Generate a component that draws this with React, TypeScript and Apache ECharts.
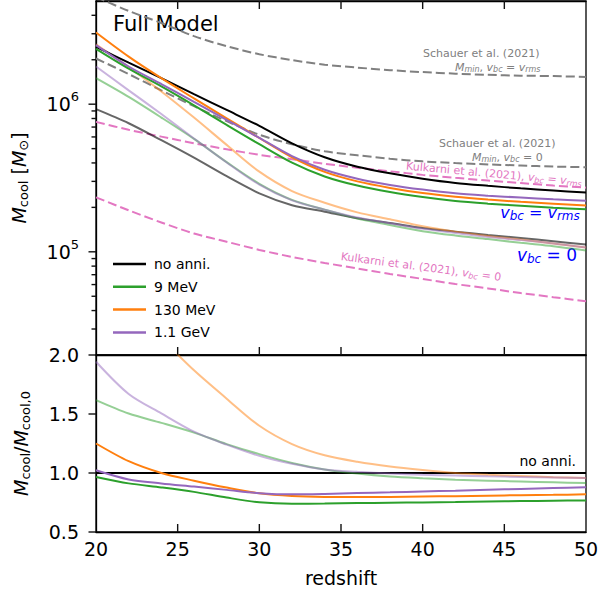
import React, { useEffect, useRef } from "react";
import * as echarts from "echarts";

const Z = [20, 22, 24, 26, 28, 30, 32, 34, 36, 38, 40, 42, 44, 46, 48, 50];

// top panel, v_bc = v_rms
const noAnniRms = [2.45e6, 1.91e6, 1.5e6, 1.17e6, 9.14e5, 7.13e5, 5.43e5, 4.37e5, 3.77e5, 3.4e5, 3.13e5, 2.93e5, 2.8e5, 2.69e5, 2.6e5, 2.52e5];
const mev9Rms = [2.37e6, 1.74e6, 1.32e6, 9.83e5, 7.24e5, 5.36e5, 4.02e5, 3.24e5, 2.81e5, 2.54e5, 2.35e5, 2.21e5, 2.12e5, 2.05e5, 1.99e5, 1.94e5];
const mev130Rms = [3.06e6, 2.1e6, 1.5e6, 1.094e6, 8.02e5, 5.9e5, 4.37e5, 3.48e5, 3.0e5, 2.71e5, 2.5e5, 2.36e5, 2.26e5, 2.18e5, 2.12e5, 2.06e5];
const gev11Rms = [2.51e6, 1.8e6, 1.37e6, 1.035e6, 7.83e5, 5.91e5, 4.45e5, 3.6e5, 3.13e5, 2.84e5, 2.64e5, 2.49e5, 2.4e5, 2.33e5, 2.27e5, 2.22e5];

// top panel, v_bc = 0
const noAnni0 = [9.25e5, 7.43e5, 5.7e5, 4.34e5, 3.25e5, 2.49e5, 2.07e5, 1.87e5, 1.69e5, 1.57e5, 1.45e5, 1.37e5, 1.3e5, 1.24e5, 1.18e5, 1.12e5];
const mev9_0 = [1.5e6, 1.12e6, 8.12e5, 5.82e5, 4.05e5, 2.89e5, 2.25e5, 1.93e5, 1.68e5, 1.52e5, 1.38e5, 1.29e5, 1.22e5, 1.15e5, 1.09e5, 1.02e5];
const mev130_0 = [2.54e6, 1.78e6, 1.22e6, 8.12e5, 5.3e5, 3.49e5, 2.58e5, 2.15e5, 1.85e5, 1.66e5, 1.49e5, 1.37e5, 1.28e5, 1.21e5, 1.14e5, 1.07e5];
const gev11_0 = [1.8e6, 1.24e6, 8.58e5, 5.86e5, 4.03e5, 2.85e5, 2.23e5, 1.93e5, 1.71e5, 1.56e5, 1.43e5, 1.34e5, 1.26e5, 1.2e5, 1.14e5, 1.07e5];

// reference curves
const schauerRms = [5.32e6, 4.28e6, 3.55e6, 2.89e6, 2.47e6, 2.18e6, 1.99e6, 1.85e6, 1.77e6, 1.7e6, 1.65e6, 1.61e6, 1.58e6, 1.56e6, 1.55e6, 1.53e6];
const schauer0 = [2.04e6, 1.6e6, 1.24e6, 9.69e5, 7.67e5, 6.21e5, 5.35e5, 4.8e5, 4.51e5, 4.27e5, 4.1e5, 3.99e5, 3.91e5, 3.84e5, 3.78e5, 3.74e5];
const kulkarniRms = [7.59e5, 6.71e5, 6.03e5, 5.44e5, 4.95e5, 4.54e5, 4.24e5, 3.95e5, 3.71e5, 3.51e5, 3.32e5, 3.17e5, 3.04e5, 2.92e5, 2.81e5, 2.72e5];
const kulkarni0 = [2.34e5, 1.91e5, 1.58e5, 1.33e5, 1.17e5, 1.03e5, 9.23e4, 8.41e4, 7.71e4, 7.08e4, 6.55e4, 6.05e4, 5.65e4, 5.26e4, 4.93e4, 4.63e4];

// bottom panel ratios
const ratioNoAnni = [1, 1, 1, 1, 1, 1, 1, 1, 1, 1, 1, 1, 1, 1, 1, 1];
const ratio9Rms = [0.966, 0.912, 0.878, 0.84, 0.792, 0.752, 0.74, 0.741, 0.745, 0.748, 0.751, 0.754, 0.758, 0.762, 0.765, 0.768];
const ratio130Rms = [1.25, 1.1, 1.0, 0.935, 0.877, 0.828, 0.805, 0.797, 0.796, 0.797, 0.8, 0.804, 0.808, 0.812, 0.815, 0.819];
const ratio11Rms = [1.023, 0.945, 0.912, 0.885, 0.857, 0.829, 0.819, 0.823, 0.83, 0.836, 0.843, 0.85, 0.858, 0.865, 0.872, 0.879];
const ratio9_0 = [1.618, 1.504, 1.425, 1.342, 1.245, 1.16, 1.085, 1.03, 0.995, 0.97, 0.955, 0.943, 0.935, 0.928, 0.921, 0.915];
const ratio130_0 = [2.75, 2.4, 2.14, 1.87, 1.63, 1.4, 1.245, 1.15, 1.095, 1.055, 1.025, 1.0, 0.985, 0.975, 0.965, 0.958];
const ratio11_0 = [1.943, 1.67, 1.505, 1.35, 1.24, 1.145, 1.078, 1.03, 1.01, 0.995, 0.985, 0.978, 0.972, 0.967, 0.962, 0.958];

// tick positions
const X_TICKS = [25, 30, 35, 40, 45];
const Y_MAJOR_TOP = [1e5, 1e6];
const Y_MINOR_TOP = [3e4, 4e4, 5e4, 6e4, 7e4, 8e4, 9e4, 2e5, 3e5, 4e5, 5e5, 6e5, 7e5, 8e5, 9e5, 2e6, 3e6, 4e6];
const Y_MAJOR_BOTTOM = [0.5, 1.0, 1.5, 2.0];

const LEGEND = ["no anni.", "9 MeV", "130 MeV", "1.1 GeV"];
const X_MIN = 20;
const X_MAX = 50;
const Y_TOP_MIN = 2e4;
const Y_TOP_MAX = 5e6;
const Y_BOT_MIN = 0.5;
const Y_BOT_MAX = 2.0;

const FONT = "DejaVu Sans";
const BLACK = "#000000";
const GREEN = "#2ca02c";
const ORANGE = "#ff7f0e";
const PURPLE = "#9467bd";
const PINK = "#e377c2";
const GREY = "#808080";

const pairs = (ys: number[]) => Z.map((x, i) => [x, ys[i]]);

function line(name: string, ys: number[], color: string, grid: number, opts: any = {}) {
  return {
    type: "line",
    name,
    xAxisIndex: grid === 0 ? 0 : 2,
    yAxisIndex: grid,
    data: pairs(ys),
    symbol: "none",
    smooth: 0.3,
    clip: true,
    silent: true,
    lineStyle: { color, width: 2, opacity: opts.opacity ?? 1, type: opts.type ?? "solid" },
    itemStyle: { color },
    z: opts.z ?? 3,
  };
}

// tick marks drawn through the axes' own scales
function ticks(name: string, xAxisIndex: number, yAxisIndex: number, data: number[][], dir: "left" | "up" | "down", len: number) {
  return {
    type: "custom",
    name,
    coordinateSystem: "cartesian2d",
    xAxisIndex,
    yAxisIndex,
    clip: false,
    silent: true,
    encode: { x: 0, y: 1 },
    data,
    z: 20,
    renderItem: (params: any, api: any) => {
      const p = api.coord([api.value(0), api.value(1)]);
      let shape;
      if (dir === "left") shape = { x1: p[0] - len, y1: p[1], x2: p[0], y2: p[1] };
      else if (dir === "up") shape = { x1: p[0], y1: p[1] - len, x2: p[0], y2: p[1] };
      else shape = { x1: p[0], y1: p[1], x2: p[0], y2: p[1] + len };
      return { type: "line", shape, style: { stroke: "#111111", lineWidth: 1.4, fill: null } };
    },
  };
}

const dash = [9, 4];

export default function App() {
  const ref = useRef<HTMLDivElement>(null);
  useEffect(() => {
    if (!ref.current) return;
    const chart = echarts.init(ref.current, null, { renderer: "svg" });
    const axisTxt = { fontFamily: FONT, fontSize: 19, color: BLACK };
    const annRich = (color: string, size: number, subSize: number, pad: number) => ({
      i: { fontFamily: FONT, fontSize: size, fontStyle: "italic", fill: color },
      n: { fontFamily: FONT, fontSize: size, fill: color },
      s: { fontFamily: FONT, fontSize: subSize, fontStyle: "italic", fill: color, padding: [pad, 0, 0, 0] },
    });
    const nameRich = {
      i: { fontFamily: FONT, fontSize: 19, fontStyle: "italic", color: BLACK },
      n: { fontFamily: FONT, fontSize: 19, color: BLACK },
      s: { fontFamily: FONT, fontSize: 13, color: BLACK, padding: [9, 0, 0, 0] },
    };
    const frameLine = { show: true, lineStyle: { color: BLACK, width: 1.3, opacity: 1 } };
    const noTick = { show: false };

    const option: any = {
      animation: false,
      backgroundColor: "#ffffff",
      textStyle: { fontFamily: FONT },
      grid: [
        { left: 96, top: 1, width: 490, height: 354, show: true, borderColor: BLACK, borderWidth: 1.3, backgroundColor: "transparent" },
        { left: 96, top: 355, width: 490, height: 177, show: true, borderColor: BLACK, borderWidth: 1.3, backgroundColor: "transparent" },
      ],
      legend: {
        data: LEGEND,
        orient: "vertical",
        left: 108,
        top: 251,
        itemWidth: 33,
        itemHeight: 2.5,
        itemGap: 6.8,
        icon: "rect",
        selectedMode: false,
        textStyle: { fontFamily: FONT, fontSize: 14, color: BLACK, lineHeight: 16, padding: [0, 0, 0, 3] },
      },
      xAxis: [
        {
          gridIndex: 0, type: "value", min: X_MIN, max: X_MAX, interval: 5, position: "bottom",
          axisLine: frameLine, axisLabel: { show: false }, splitLine: { show: false }, axisTick: noTick,
        },
        {
          gridIndex: 0, type: "value", min: X_MIN, max: X_MAX, interval: 5, position: "top",
          axisLine: frameLine, axisLabel: { show: false }, splitLine: { show: false }, axisTick: noTick,
        },
        {
          gridIndex: 1, type: "value", min: X_MIN, max: X_MAX, interval: 5, position: "bottom",
          axisLine: frameLine, splitLine: { show: false }, axisTick: noTick,
          axisLabel: { ...axisTxt, margin: 7 },
          name: "redshift", nameLocation: "middle", nameGap: 36, nameTextStyle: axisTxt,
        },
      ],
      yAxis: [
        {
          gridIndex: 0, type: "log", logBase: 10, min: Y_TOP_MIN, max: Y_TOP_MAX,
          axisLine: frameLine, splitLine: { show: false }, axisTick: noTick,
          axisLabel: {
            showMinLabel: false, showMaxLabel: false, margin: 17,
            formatter: (v: number) => `{a|10}{b|${Math.round(Math.log10(v))}}`,
            rich: {
              a: { fontFamily: FONT, fontSize: 19, color: BLACK },
              b: { fontFamily: FONT, fontSize: 13, color: BLACK, padding: [0, 0, 15, 0] },
            },
          },
          name: "{i|M}{s|cool}{n| [}{i|M}{s|⊙}{n|]}",
          nameLocation: "middle", nameRotate: 90, nameGap: 66,
          nameTextStyle: { rich: nameRich },
        },
        {
          gridIndex: 1, type: "value", min: Y_BOT_MIN, max: Y_BOT_MAX, interval: 0.5,
          axisLine: frameLine, splitLine: { show: false }, axisTick: noTick,
          axisLabel: { ...axisTxt, margin: 17, formatter: (v: number) => v.toFixed(1) },
          name: "{i|M}{s|cool}{n|/}{i|M}{s|cool,0}",
          nameLocation: "middle", nameRotate: 90, nameGap: 64,
          nameTextStyle: { rich: nameRich },
        },
      ],
      series: [
        line("Schauer vrms", schauerRms, GREY, 0, { type: dash, z: 2 }),
        line("Schauer 0", schauer0, GREY, 0, { type: dash, z: 2 }),
        line("Kulkarni vrms", kulkarniRms, PINK, 0, { type: dash, z: 2 }),
        line("Kulkarni 0", kulkarni0, PINK, 0, { type: dash, z: 2 }),
        line("no anni. 0", noAnni0, BLACK, 0, { opacity: 0.6 }),
        line("9 MeV 0", mev9_0, GREEN, 0, { opacity: 0.5 }),
        line("130 MeV 0", mev130_0, ORANGE, 0, { opacity: 0.5 }),
        line("1.1 GeV 0", gev11_0, PURPLE, 0, { opacity: 0.5 }),
        line("no anni.", noAnniRms, BLACK, 0),
        line("9 MeV", mev9Rms, GREEN, 0),
        line("130 MeV", mev130Rms, ORANGE, 0),
        line("1.1 GeV", gev11Rms, PURPLE, 0),
        line("ratio no anni.", ratioNoAnni, BLACK, 1),
        line("ratio 9 MeV 0", ratio9_0, GREEN, 1, { opacity: 0.5 }),
        line("ratio 130 MeV 0", ratio130_0, ORANGE, 1, { opacity: 0.5 }),
        line("ratio 1.1 GeV 0", ratio11_0, PURPLE, 1, { opacity: 0.5 }),
        line("ratio 9 MeV", ratio9Rms, GREEN, 1),
        line("ratio 130 MeV", ratio130Rms, ORANGE, 1),
        line("ratio 1.1 GeV", ratio11Rms, PURPLE, 1),
        ticks("y major top", 0, 0, Y_MAJOR_TOP.map((v) => [X_MIN, v]), "left", 7.5),
        ticks("y minor top", 0, 0, Y_MINOR_TOP.map((v) => [X_MIN, v]), "left", 4.5),
        ticks("y major bottom", 2, 1, Y_MAJOR_BOTTOM.map((v) => [X_MIN, v]), "left", 7.5),
        ticks("x ticks top-bottom", 0, 0, X_TICKS.map((v) => [v, Y_TOP_MIN]), "up", 8),
        ticks("x ticks top-top", 0, 0, X_TICKS.map((v) => [v, Y_TOP_MAX]), "down", 8),
        ticks("x ticks bottom", 2, 1, X_TICKS.map((v) => [v, Y_BOT_MIN]), "up", 8),
      ],
      graphic: [
        { type: "text", left: 113, top: 13, style: { text: "Full Model", fontFamily: FONT, fontSize: 21, fill: BLACK } },
        { type: "text", x: 423, y: 53, style: { text: "Schauer et al. (2021)", fontFamily: FONT, fontSize: 11, fill: GREY, textVerticalAlign: "middle" } },
        {
          type: "text", x: 455, y: 67,
          style: { text: "{i|M}{s|min}{n|, }{i|v}{s|bc}{n| = }{i|v}{s|rms}", textVerticalAlign: "middle", rich: annRich(GREY, 11, 8, 5) },
        },
        { type: "text", x: 439, y: 143, style: { text: "Schauer et al. (2021)", fontFamily: FONT, fontSize: 11, fill: GREY, textVerticalAlign: "middle" } },
        {
          type: "text", x: 472, y: 157,
          style: { text: "{i|M}{s|min}{n|, }{i|v}{s|bc}{n| = 0}", textVerticalAlign: "middle", rich: annRich(GREY, 11, 8, 5) },
        },
        {
          type: "text", x: 494, y: 174, rotation: -0.09,
          style: { text: "{n|Kulkarni et al. (2021), }{i|v}{s|bc}{n| = }{i|v}{s|rms}", textAlign: "center", textVerticalAlign: "middle", rich: annRich(PINK, 11, 8, 5) },
        },
        {
          type: "text", x: 421, y: 267, rotation: -0.13,
          style: { text: "{n|Kulkarni et al. (2021), }{i|v}{s|bc}{n| = 0}", textAlign: "center", textVerticalAlign: "middle", rich: annRich(PINK, 11, 8, 5) },
        },
        {
          type: "text", x: 540, y: 212,
          style: { text: "{i|v}{s|bc}{n| = }{i|v}{s|rms}", textAlign: "center", textVerticalAlign: "middle", rich: annRich("#0000ff", 16, 12, 7) },
        },
        {
          type: "text", x: 547, y: 255,
          style: { text: "{i|v}{s|bc}{n| = 0}", textAlign: "center", textVerticalAlign: "middle", rich: annRich("#0000ff", 17, 12, 7) },
        },
        { type: "text", x: 576, y: 461, style: { text: "no anni.", fontFamily: FONT, fontSize: 14, fill: BLACK, textAlign: "right", textVerticalAlign: "middle" } },
      ],
    };
    chart.setOption(option);
    return () => chart.dispose();
  }, []);
  return <div ref={ref} style={{ width: 602, height: 593, position: "absolute", left: 0, top: 0 }} />;
}
